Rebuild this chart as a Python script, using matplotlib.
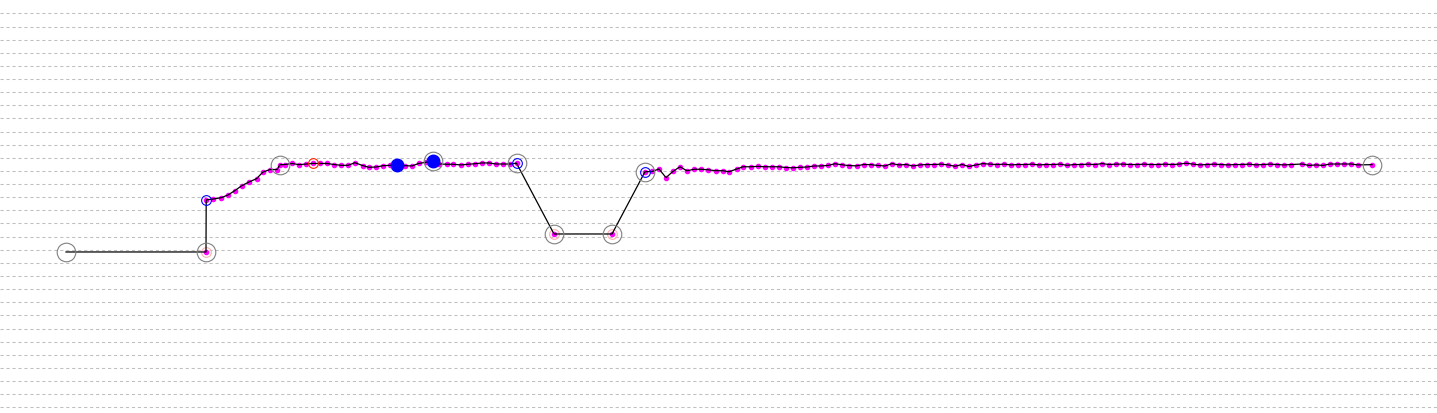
import numpy as np
import matplotlib
matplotlib.use("Agg")
import matplotlib.pyplot as plt

plt.rcParams['lines.scale_dashes'] = False

# Route: distance (x) and elevation (y)
dist = [6.6, 20.6,
        20.62, 21.3, 22.1, 22.8, 23.5, 24.2, 24.9, 25.65, 26.3, 27.0, 27.7,
        28.0, 28.45, 29.2, 29.9, 30.6, 31.25, 31.95, 32.7, 33.4, 34.1, 34.8,
        35.5, 36.3, 36.9, 37.6, 38.3, 39.0, 39.7, 40.5, 41.2, 41.9, 42.6,
        43.3, 43.9, 44.7, 45.3, 46.1, 46.8, 47.5, 48.2, 48.9, 49.6, 50.3,
        51.0, 51.65,
        55.4, 61.2,
        64.5, 65.2, 65.9, 66.6, 67.3, 68.0, 68.7, 69.4, 70.1, 70.8, 71.55,
        72.25, 72.9, 73.7, 74.3, 75.1, 75.8, 76.5, 77.2, 77.9, 78.6, 79.3,
        80.0, 80.7, 81.4, 82.1, 82.8, 83.5, 84.2, 84.9, 85.65, 86.35, 87.1,
        87.75, 88.5, 89.2,
        89.9, 90.6, 91.3, 92.0, 92.7, 93.4, 94.1, 94.8, 95.5, 96.2, 96.9,
        97.6, 98.3, 99.0, 99.7, 100.4, 101.1, 101.8, 102.5, 103.2, 103.9,
        104.6, 105.3, 106.0, 106.7, 107.4, 108.1, 108.8, 109.5, 110.2, 110.9,
        111.6, 112.3, 113.0, 113.7, 114.4, 115.1, 115.8, 116.5, 117.2, 117.9,
        118.6, 119.3, 120.0, 120.7, 121.4, 122.1, 122.8, 123.5, 124.2, 124.9,
        125.6, 126.3, 127.0, 127.7, 128.4, 129.1,
        130.2, 130.9, 131.6, 132.3, 133.0, 133.7, 134.4, 135.1, 135.8, 137.2]

elev = [118.3, 118.3,
        157.9, 158.6, 159.6, 161.7, 165.1, 168.9, 171.6, 174.1, 179.2, 181.1, 181.1,
        184.8, 184.9, 185.7, 184.8, 185.3, 185.7, 185.7, 185.7, 184.9, 184.3, 184.3,
        186.3, 184.0, 182.8, 183.0, 184.0, 184.3, 184.3, 184.0, 183.8, 185.8, 186.6,
        187.4, 185.3, 185.1, 185.1, 184.6, 185.1, 185.5, 186.1, 186.1, 185.3, 185.3,
        185.3, 185.9,
        132.0, 132.0,
        179.4, 179.6, 181.5, 174.9, 179.7, 183.2, 180.1, 181.3, 181.3, 180.9, 180.2,
        180.2, 179.4, 181.6, 183.2, 183.2, 183.5, 183.2, 183.2, 183.2, 182.6, 182.4,
        182.8, 183.0, 183.8, 183.8, 184.2, 185.5, 184.7, 184.1, 183.9, 184.9, 184.8,
        184.2, 183.8, 185.6,
        184.6, 184.9, 183.8, 184.6, 184.9, 184.9, 185.2, 184.6, 183.6, 184.9, 183.4,
        184.6, 185.6, 185.2, 184.9, 185.2, 184.6, 184.9, 184.9, 185.2, 184.6,
        184.9, 184.9, 185.2, 184.3, 184.9, 184.9, 185.2, 184.9, 185.6, 184.9,
        185.2, 185.2, 184.9, 184.9, 185.2, 184.9, 184.9, 185.2, 184.9, 185.2,
        185.9, 185.2, 184.6, 184.9, 185.2, 184.9, 184.6, 184.9, 184.9, 185.2,
        184.6, 184.9, 185.2, 184.9, 184.6, 184.9,
        185.3, 184.2, 184.6, 184.2, 185.3, 185.3, 185.3, 185.3, 184.6, 184.8]

# Waypoint markers (distances along the route)
grey_wp = [6.6, 20.6, 28.0, 43.3, 51.65, 55.4, 61.2, 64.5, 137.2]
blue_wp = [20.62, 51.65, 64.5]
pink_wp = [20.6, 55.4, 61.2]
red_wp = [31.25]
bluefill_wp = [39.7, 43.3]

x = np.array(dist)
y = np.array(elev)

def idx(vals):
    return [int(np.argmin(np.abs(x - v))) for v in vals]

fig = plt.figure(figsize=(14.37, 4.13), dpi=100)
ax = fig.add_axes([0, 0, 1, 1])
ax.set_xlim(0, 143.7)
ax.set_ylim(-4.34, 310.2)
ax.set_frame_on(False)
ax.set_xticks([])
ax.set_yticks(np.arange(0, 301, 10))
ax.tick_params(length=0, labelleft=False)
ax.yaxis.grid(True, color='#c0c0c0', linewidth=0.75, linestyle=(0, (2.3, 2.0)))
ax.set_axisbelow(True)

# magenta track points
ax.plot(x[1:], y[1:], linestyle='none', marker='o', markersize=3.0,
        markerfacecolor='#ff00ff', markeredgecolor='#ff00ff', zorder=3)
# route line
ax.plot(x, y, color='black', linewidth=0.9, zorder=4)

i = idx(pink_wp)
ax.plot(x[i], y[i], linestyle='none', marker='o', markersize=7,
        markerfacecolor='none', markeredgecolor='#ffb0b0', markeredgewidth=0.8, zorder=2)
i = idx(blue_wp)
ax.plot(x[i], y[i], linestyle='none', marker='o', markersize=7,
        markerfacecolor='none', markeredgecolor='#0000ff', markeredgewidth=0.8, zorder=5)
i = idx(red_wp)
ax.plot(x[i], y[i], linestyle='none', marker='o', markersize=7,
        markerfacecolor='none', markeredgecolor='#ff2200', markeredgewidth=0.8, zorder=5)
i = idx(bluefill_wp)
ax.plot(x[i], y[i], linestyle='none', marker='o', markersize=9,
        markerfacecolor='#0000ff', markeredgecolor='#0000ff', zorder=5)
i = idx(grey_wp)
ax.plot(x[i], y[i], linestyle='none', marker='o', markersize=13.4,
        markerfacecolor='none', markeredgecolor='#808080', markeredgewidth=0.8, zorder=6)

fig.savefig('out.png', dpi=100)
